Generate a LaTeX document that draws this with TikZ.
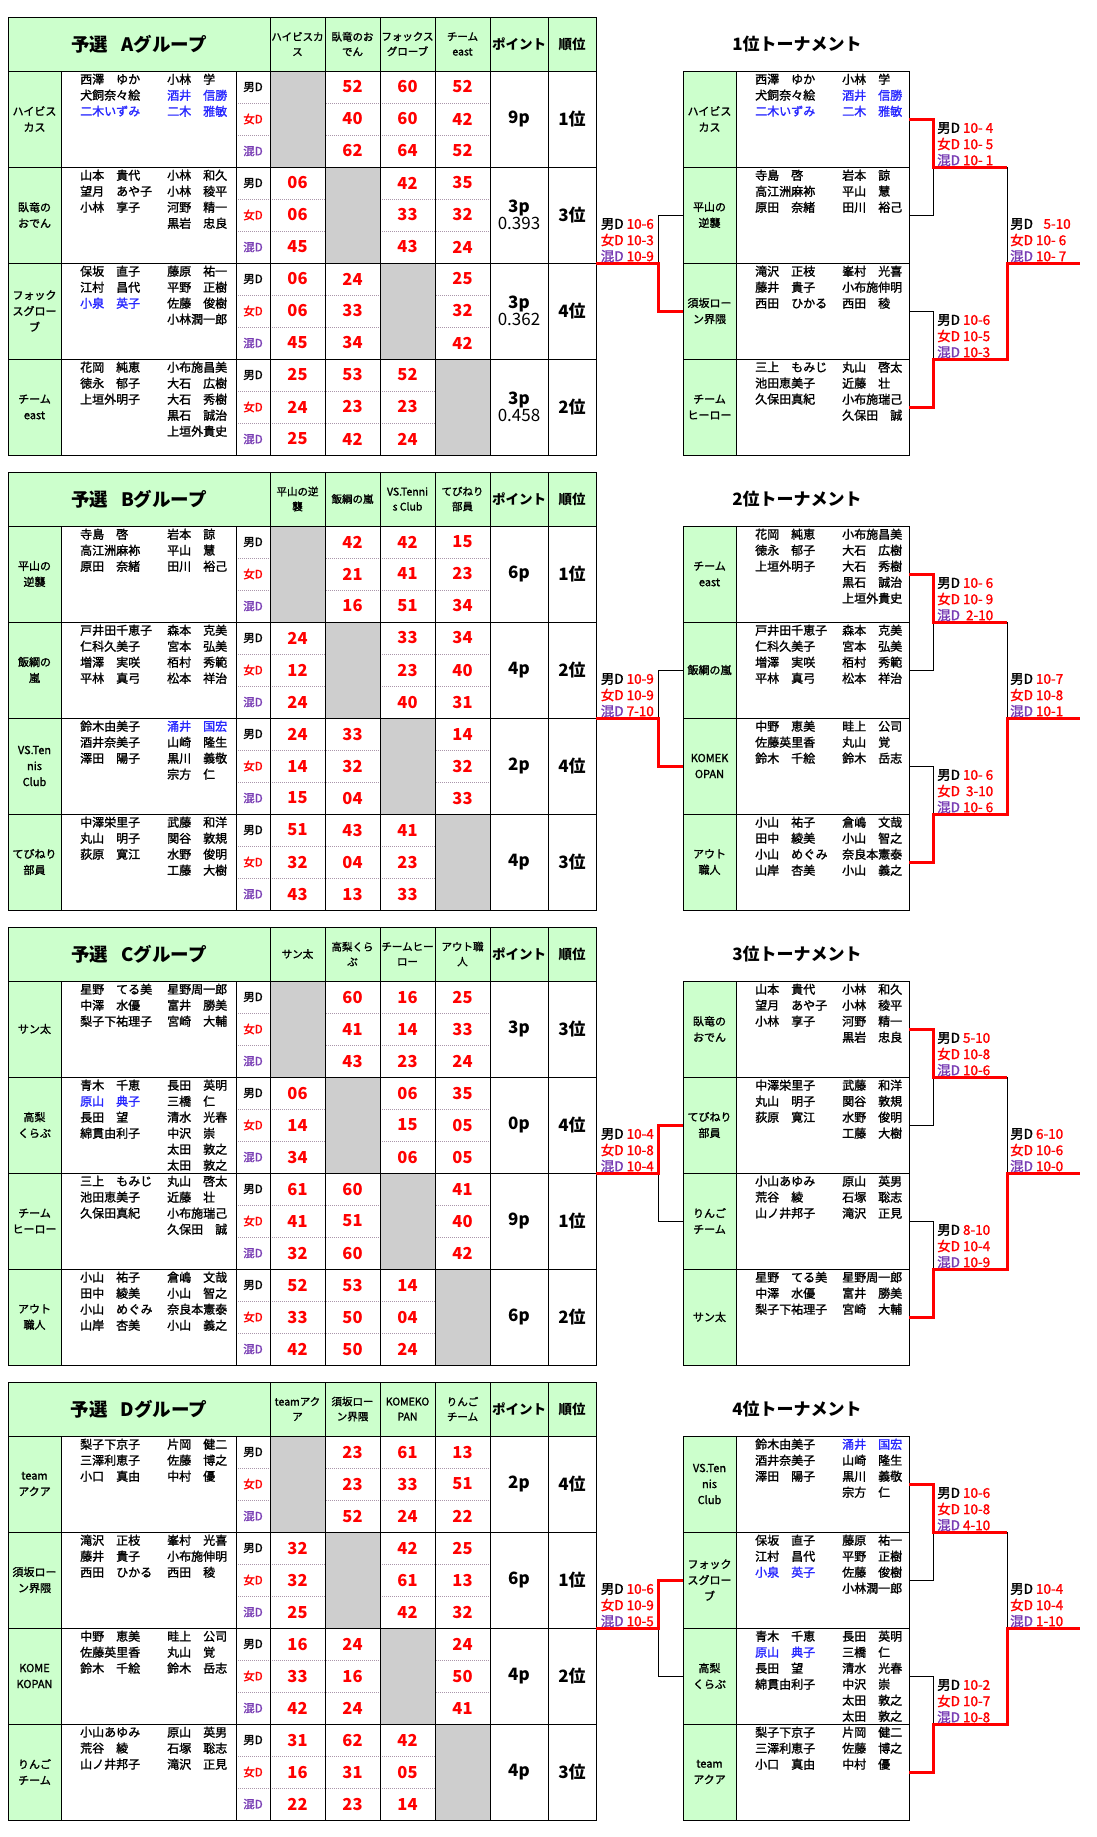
\documentclass[tikz,border=0pt]{standalone}
\usepackage{fontspec}
\setmainfont{Noto Sans CJK JP}
\newfontfamily\darkfont{Noto Sans CJK JP}[FakeBold=1.5]
\definecolor{headgreen}{RGB}{204,255,204}
\definecolor{selfgrey}{RGB}{206,206,206}
\definecolor{dotgrey}{RGB}{170,150,170}
\definecolor{mixpurple}{RGB}{120,60,180}
\definecolor{nameblue}{RGB}{40,40,255}

\newcommand{\bluename}[1]{\textcolor{nameblue}{#1}}
\newcommand{\ratio}[1]{{\mdseries #1}}

% group table: header, team rows, grid
\newcommand{\grouphead}[6]{%
  \def\gid{#1}\def\gtop{#2}%
  \fill[headfill] (8,#2) rectangle (596,#2+54);
  \node[grouptitle] (#1-title) at (139,#2+27) {予選\hspace{0.7em}#1グループ};
  \foreach \hd [count=\colno] in {{#3},{#4},{#5},{#6}}
    \node[colhead] (#1-h\colno) at (242.5+55*\colno,#2+27) {\hd};
  \node[bighead] (#1-pt) at (519,#2+27) {ポイント};
  \node[bighead] (#1-rk) at (572,#2+27) {順位};
}
\newcommand{\teamrow}[7]{%
  \pgfmathsetmacro\rowtop{\gtop+54+96*(#1-1)}%
  \fill[headfill] (8,\rowtop) rectangle (61,\rowtop+96);
  \node[teamname] (\gid-t#1) at (34.5,\rowtop+48) {#2};
  \node[member] (\gid-l#1) at (80,\rowtop+2.5) {#3};
  \node[member] (\gid-r#1) at (167,\rowtop+2.5) {#4};
  \foreach \sub in {1,2}
    \draw[subline] (236,\rowtop+32*\sub) -- (490,\rowtop+32*\sub);
  \node[dlab] (\gid-d#1-m) at (253,\rowtop+16) {男D};
  \node[dlab,text=red] (\gid-d#1-w) at (253,\rowtop+48) {女D};
  \node[dlab,text=mixpurple] (\gid-d#1-x) at (253,\rowtop+80) {混D};
  \foreach \ma/\wo/\mx [count=\colno] in {#5}{%
    \ifnum\colno=#1
      \fill[selfcell] (215+55*\colno,\rowtop) rectangle (270+55*\colno,\rowtop+96);
    \else
      \node[score] (\gid-s#1-\colno-m) at (242.5+55*\colno,\rowtop+16) {\ma};
      \node[score] (\gid-s#1-\colno-w) at (242.5+55*\colno,\rowtop+48) {\wo};
      \node[score] (\gid-s#1-\colno-x) at (242.5+55*\colno,\rowtop+80) {\mx};
    \fi}
  \node[points] (\gid-p#1) at (519,\rowtop+48) {#6};
  \node[points] (\gid-k#1) at (572,\rowtop+48) {#7};
}
\newcommand{\groupgrid}{%
  \draw[cellline] (8,\gtop) rectangle (596,\gtop+438);
  \foreach \rowno in {0,1,2,3}
    \draw[cellline] (8,\gtop+54+96*\rowno) -- (596,\gtop+54+96*\rowno);
  \foreach \xx in {61,236}
    \draw[cellline] (\xx,\gtop+54) -- (\xx,\gtop+438);
  \foreach \xx in {270,325,380,435,490,548}
    \draw[cellline] (\xx,\gtop) -- (\xx,\gtop+438);
}

% tournament: header, rows, grid, bracket, results
\newcommand{\tourhead}[3]{%
  \def\tid{#1}\def\ttop{#2}%
  \node[tourtitle] (#1-title) at (797,#2+27) {#3};
}
\newcommand{\tourrow}[4]{%
  \pgfmathsetmacro\rowtop{\ttop+54+96*(#1-1)}%
  \fill[headfill] (683,\rowtop) rectangle (736,\rowtop+96);
  \node[teamname] (\tid-t#1) at (709.5,\rowtop+48) {#2};
  \node[member] (\tid-l#1) at (755,\rowtop+2.5) {#3};
  \node[member] (\tid-r#1) at (842,\rowtop+2.5) {#4};
  \coordinate (\tid-w#1) at (683,\rowtop+48);
  \coordinate (\tid-e#1) at (909,\rowtop+48);
}
\newcommand{\tourgrid}{%
  \draw[cellline] (683,\ttop+54) rectangle (909,\ttop+438);
  \draw[cellline] (736,\ttop+54) -- (736,\ttop+438);
  \foreach \rowno in {1,2,3}
    \draw[cellline] (683,\ttop+54+96*\rowno) -- (909,\ttop+54+96*\rowno);
}
\newcommand{\tourlines}[1]{% #1 = row that wins the left match
  \coordinate (\tid-in) at (596,\ttop+246);
  \coordinate (\tid-lj) at (658,\ttop+246);
  \coordinate (\tid-j1) at (933,\ttop+150);
  \coordinate (\tid-j2) at (933,\ttop+342);
  \coordinate (\tid-f1) at (1007,\ttop+150);
  \coordinate (\tid-f2) at (1007,\ttop+342);
  \coordinate (\tid-fj) at (1007,\ttop+246);
  \coordinate (\tid-out) at (1080,\ttop+246);
  \draw[lose] (\tid-e2) -| (\tid-j1);
  \draw[lose] (\tid-e3) -| (\tid-j2);
  \draw[lose] (\tid-f1) -- (\tid-fj);
  \ifnum#1=2
    \draw[lose] (\tid-w3) -| (\tid-lj);
    \draw[win] (\tid-in) -- (\tid-lj) |- (\tid-w2);
  \else
    \draw[lose] (\tid-w2) -| (\tid-lj);
    \draw[win] (\tid-in) -- (\tid-lj) |- (\tid-w3);
  \fi
  \draw[win] (\tid-e1) -| (\tid-j1) -- (\tid-f1);
  \draw[win] (\tid-e4) -| (\tid-j2) -- (\tid-f2) -- (\tid-fj) -- (\tid-out);
}
\newcommand{\matchres}[7]{%
  \node[res,anchor=#2] (#1-m) at ([xshift=#3,yshift=39pt]#4) {男D \textcolor{red}{#5}};
  \node[res,anchor=#2,text=red] (#1-w) at ([xshift=#3,yshift=23pt]#4) {女D #6};
  \node[res,anchor=#2] (#1-x) at ([xshift=#3,yshift=7pt]#4) {\textcolor{mixpurple}{混D} \textcolor{red}{#7}};
}

\begin{document}
\begin{tikzpicture}[x=1pt,y=-1pt]
  \tikzset{headfill/.style={fill=headgreen}}
  \tikzset{selfcell/.style={fill=selfgrey}}
  \tikzset{cellline/.style={draw=black,line width=1pt}}
  \tikzset{subline/.style={draw=dotgrey,line width=0.8pt,dash pattern=on 1pt off 1pt}}
  \tikzset{grouptitle/.style={font=\bfseries\fontsize{18.5}{20}\selectfont,inner sep=0}}
  \tikzset{tourtitle/.style={font=\bfseries\fontsize{17}{19}\selectfont,inner sep=0}}
  \tikzset{colhead/.style={font=\darkfont\fontsize{10.5}{15}\selectfont,align=center,inner sep=0}}
  \tikzset{bighead/.style={font=\bfseries\fontsize{13.5}{15}\selectfont,inner sep=0}}
  \tikzset{teamname/.style={font=\darkfont\fontsize{11}{16}\selectfont,align=center,inner sep=0}}
  \tikzset{member/.style={font=\darkfont\fontsize{12}{16}\selectfont,align=left,anchor=north west,inner sep=0}}
  \tikzset{dlab/.style={font=\darkfont\fontsize{11.5}{13}\selectfont,inner sep=0}}
  \tikzset{score/.style={font=\bfseries\fontsize{16.5}{18}\selectfont,text=red,inner sep=0}}
  \tikzset{points/.style={font=\bfseries\fontsize{17}{17}\selectfont,align=center,inner sep=0}}
  \tikzset{res/.style={font=\darkfont\fontsize{13.5}{16}\selectfont,inner sep=0}}
  \tikzset{lose/.style={draw=black,line width=1pt}}
  \tikzset{win/.style={draw=red,line width=3pt}}

  \fill[white] (0,0) rectangle (1096,1837);
  \useasboundingbox (0,0) rectangle (1096,1837);

  % group A
  \grouphead{A}{17}{ハイビスカ\\ス}{臥竜のお\\でん}{フォックス\\グローブ}{チーム\\east}
  \teamrow{1}{ハイビス\\カス}{西澤　ゆか\\犬飼奈々絵\\\bluename{二木いずみ}}{小林　学\\\bluename{酒井　信勝}\\\bluename{二木　雅敏}}{-/-/-,52/40/62,60/60/64,52/42/52}{9p}{1位}
  \teamrow{2}{臥竜の\\おでん}{山本　貴代\\望月　あや子\\小林　享子}{小林　和久\\小林　稜平\\河野　精一\\黒岩　忠良}{06/06/45,-/-/-,42/33/43,35/32/24}{3p\\\ratio{0.393}}{3位}
  \teamrow{3}{フォック\\スグロー\\ブ}{保坂　直子\\江村　昌代\\\bluename{小泉　英子}}{藤原　祐一\\平野　正樹\\佐藤　俊樹\\小林潤一郎}{06/06/45,24/33/34,-/-/-,25/32/42}{3p\\\ratio{0.362}}{4位}
  \teamrow{4}{チーム\\east}{花岡　純恵\\徳永　郁子\\上垣外明子}{小布施昌美\\大石　広樹\\大石　秀樹\\黒石　誠治\\上垣外貴史}{25/24/25,53/23/42,52/23/24,-/-/-}{3p\\\ratio{0.458}}{2位}
  \groupgrid

  % group B
  \grouphead{B}{472}{平山の逆\\襲}{飯綱の嵐}{VS.Tenni\\s Club}{てびねり\\部員}
  \teamrow{1}{平山の\\逆襲}{寺島　啓\\高江洲麻袮\\原田　奈緒}{岩本　諒\\平山　慧\\田川　裕己}{-/-/-,42/21/16,42/41/51,15/23/34}{6p}{1位}
  \teamrow{2}{飯綱の\\嵐}{戸井田千恵子\\仁科久美子\\増澤　実咲\\平林　真弓}{森本　克美\\宮本　弘美\\栢村　秀範\\松本　祥治}{24/12/24,-/-/-,33/23/40,34/40/31}{4p}{2位}
  \teamrow{3}{VS.Ten\\nis\\Club}{鈴木由美子\\酒井奈美子\\澤田　陽子}{\bluename{涌井　国宏}\\山崎　隆生\\黒川　義敬\\宗方　仁}{24/14/15,33/32/04,-/-/-,14/32/33}{2p}{4位}
  \teamrow{4}{てびねり\\部員}{中澤栄里子\\丸山　明子\\荻原　寛江}{武藤　和洋\\関谷　敦規\\水野　俊明\\工藤　大樹}{51/32/43,43/04/13,41/23/33,-/-/-}{4p}{3位}
  \groupgrid

  % group C
  \grouphead{C}{927}{サン太}{高梨くら\\ぶ}{チームヒー\\ロー}{アウト職\\人}
  \teamrow{1}{サン太}{星野　てる美\\中澤　水優\\梨子下祐理子}{星野周一郎\\富井　勝美\\宮崎　大輔}{-/-/-,60/41/43,16/14/23,25/33/24}{3p}{3位}
  \teamrow{2}{高梨\\くらぶ}{青木　千恵\\\bluename{原山　典子}\\長田　望\\綿貫由利子}{長田　英明\\三橋　仁\\清水　光春\\中沢　崇\\太田　敦之\\太田　敦之}{06/14/34,-/-/-,06/15/06,35/05/05}{0p}{4位}
  \teamrow{3}{チーム\\ヒーロー}{三上　もみじ\\池田恵美子\\久保田真紀}{丸山　啓太\\近藤　壮\\小布施瑞己\\久保田　誠}{61/41/32,60/51/60,-/-/-,41/40/42}{9p}{1位}
  \teamrow{4}{アウト\\職人}{小山　祐子\\田中　綾美\\小山　めぐみ\\山岸　杏美}{倉嶋　文哉\\小山　智之\\奈良本憲泰\\小山　義之}{52/33/42,53/50/50,14/04/24,-/-/-}{6p}{2位}
  \groupgrid

  % group D
  \grouphead{D}{1382}{teamアク\\ア}{須坂ロー\\ン界隈}{KOMEKO\\PAN}{りんご\\チーム}
  \teamrow{1}{team\\アクア}{梨子下京子\\三澤利恵子\\小口　真由}{片岡　健二\\佐藤　博之\\中村　優}{-/-/-,23/23/52,61/33/24,13/51/22}{2p}{4位}
  \teamrow{2}{須坂ロー\\ン界隈}{滝沢　正枝\\藤井　貴子\\西田　ひかる}{峯村　光喜\\小布施伸明\\西田　稜}{32/32/25,-/-/-,42/61/42,25/13/32}{6p}{1位}
  \teamrow{3}{KOME\\KOPAN}{中野　恵美\\佐藤英里香\\鈴木　千絵}{畦上　公司\\丸山　覚\\鈴木　岳志}{16/33/42,24/16/24,-/-/-,24/50/41}{4p}{2位}
  \teamrow{4}{りんご\\チーム}{小山あゆみ\\荒谷　綾\\山ノ井邦子}{原山　英男\\石塚　聡志\\滝沢　正見}{31/16/22,62/31/23,42/05/14,-/-/-}{4p}{3位}
  \groupgrid

  % 1st place tournament
  \tourhead{T1}{17}{1位トーナメント}
  \tourrow{1}{ハイビス\\カス}{西澤　ゆか\\犬飼奈々絵\\\bluename{二木いずみ}}{小林　学\\\bluename{酒井　信勝}\\\bluename{二木　雅敏}}
  \tourrow{2}{平山の\\逆襲}{寺島　啓\\高江洲麻袮\\原田　奈緒}{岩本　諒\\平山　慧\\田川　裕己}
  \tourrow{3}{須坂ロー\\ン界隈}{滝沢　正枝\\藤井　貴子\\西田　ひかる}{峯村　光喜\\小布施伸明\\西田　稜}
  \tourrow{4}{チーム\\ヒーロー}{三上　もみじ\\池田恵美子\\久保田真紀}{丸山　啓太\\近藤　壮\\小布施瑞己\\久保田　誠}
  \tourgrid
  \tourlines{3}
  \matchres{T1-a}{east}{-4pt}{T1-lj}{10-6}{10-3}{10-9}
  \matchres{T1-b}{west}{4pt}{T1-j1}{10- 4}{10- 5}{10- 1}
  \matchres{T1-c}{west}{4pt}{T1-j2}{10-6}{10-5}{10-3}
  \matchres{T1-d}{west}{3pt}{T1-fj}{\hphantom{0}5-10}{10- 6}{10- 7}

  % 2nd place tournament
  \tourhead{T2}{472}{2位トーナメント}
  \tourrow{1}{チーム\\east}{花岡　純恵\\徳永　郁子\\上垣外明子}{小布施昌美\\大石　広樹\\大石　秀樹\\黒石　誠治\\上垣外貴史}
  \tourrow{2}{飯綱の嵐}{戸井田千恵子\\仁科久美子\\増澤　実咲\\平林　真弓}{森本　克美\\宮本　弘美\\栢村　秀範\\松本　祥治}
  \tourrow{3}{KOMEK\\OPAN}{中野　恵美\\佐藤英里香\\鈴木　千絵}{畦上　公司\\丸山　覚\\鈴木　岳志}
  \tourrow{4}{アウト\\職人}{小山　祐子\\田中　綾美\\小山　めぐみ\\山岸　杏美}{倉嶋　文哉\\小山　智之\\奈良本憲泰\\小山　義之}
  \tourgrid
  \tourlines{3}
  \matchres{T2-a}{east}{-4pt}{T2-lj}{10-9}{10-9}{7-10}
  \matchres{T2-b}{west}{4pt}{T2-j1}{10- 6}{10- 9}{\ 2-10}
  \matchres{T2-c}{west}{4pt}{T2-j2}{10- 6}{\ 3-10}{10- 6}
  \matchres{T2-d}{west}{3pt}{T2-fj}{10-7}{10-8}{10-1}

  % 3rd place tournament
  \tourhead{T3}{927}{3位トーナメント}
  \tourrow{1}{臥竜の\\おでん}{山本　貴代\\望月　あや子\\小林　享子}{小林　和久\\小林　稜平\\河野　精一\\黒岩　忠良}
  \tourrow{2}{てびねり\\部員}{中澤栄里子\\丸山　明子\\荻原　寛江}{武藤　和洋\\関谷　敦規\\水野　俊明\\工藤　大樹}
  \tourrow{3}{りんご\\チーム}{小山あゆみ\\荒谷　綾\\山ノ井邦子}{原山　英男\\石塚　聡志\\滝沢　正見}
  \tourrow{4}{サン太}{星野　てる美\\中澤　水優\\梨子下祐理子}{星野周一郎\\富井　勝美\\宮崎　大輔}
  \tourgrid
  \tourlines{2}
  \matchres{T3-a}{east}{-4pt}{T3-lj}{10-4}{10-8}{10-4}
  \matchres{T3-b}{west}{4pt}{T3-j1}{5-10}{10-8}{10-6}
  \matchres{T3-c}{west}{4pt}{T3-j2}{8-10}{10-4}{10-9}
  \matchres{T3-d}{west}{3pt}{T3-fj}{6-10}{10-6}{10-0}

  % 4th place tournament
  \tourhead{T4}{1382}{4位トーナメント}
  \tourrow{1}{VS.Ten\\nis\\Club}{鈴木由美子\\酒井奈美子\\澤田　陽子}{\bluename{涌井　国宏}\\山崎　隆生\\黒川　義敬\\宗方　仁}
  \tourrow{2}{フォック\\スグロー\\ブ}{保坂　直子\\江村　昌代\\\bluename{小泉　英子}}{藤原　祐一\\平野　正樹\\佐藤　俊樹\\小林潤一郎}
  \tourrow{3}{高梨\\くらぶ}{青木　千恵\\\bluename{原山　典子}\\長田　望\\綿貫由利子}{長田　英明\\三橋　仁\\清水　光春\\中沢　崇\\太田　敦之\\太田　敦之}
  \tourrow{4}{team\\アクア}{梨子下京子\\三澤利恵子\\小口　真由}{片岡　健二\\佐藤　博之\\中村　優}
  \tourgrid
  \tourlines{2}
  \matchres{T4-a}{east}{-4pt}{T4-lj}{10-6}{10-9}{10-5}
  \matchres{T4-b}{west}{4pt}{T4-j1}{10-6}{10-8}{4-10}
  \matchres{T4-c}{west}{4pt}{T4-j2}{10-2}{10-7}{10-8}
  \matchres{T4-d}{west}{3pt}{T4-fj}{10-4}{10-4}{1-10}
\end{tikzpicture}
\end{document}
